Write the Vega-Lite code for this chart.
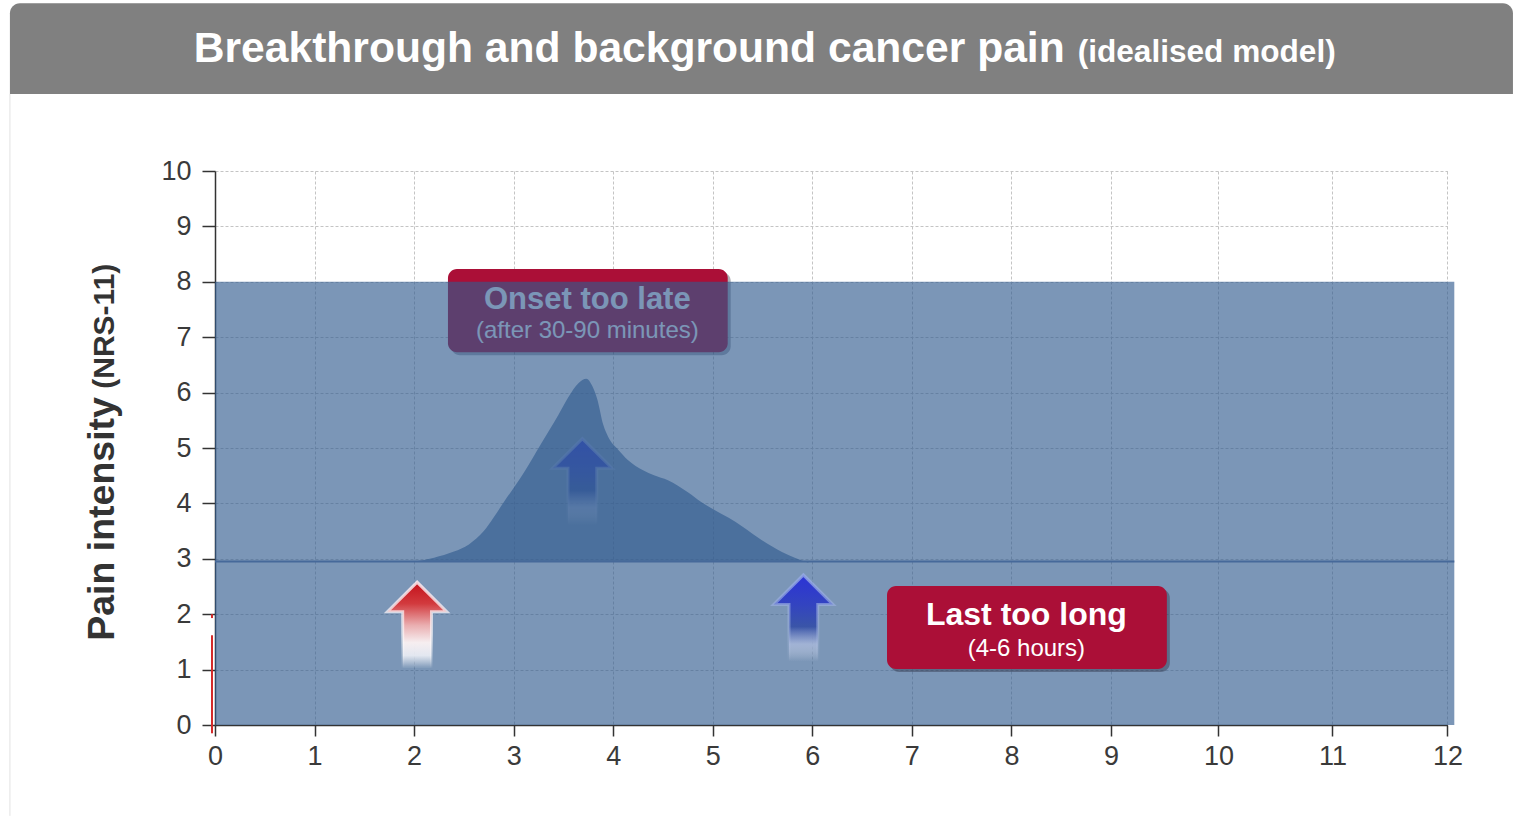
{
  "$schema": "https://vega.github.io/schema/vega-lite/v6.json",
  "width": 1232,
  "height": 554,
  "padding": {"left": 9, "top": 3, "right": 0, "bottom": 0},
  "background": "#ffffff",
  "config": {
    "view": {"stroke": null},
    "font": "Liberation Sans",
    "axis": {
      "domainColor": "#333333", "domainWidth": 1.5,
      "tickColor": "#333333", "tickWidth": 1.5,
      "labelColor": "#3a3a3a", "labelFontSize": 27, "labelFont": "Liberation Sans",
      "grid": true, "gridColor": "#c4c4c4", "gridDash": [3, 2], "gridWidth": 1,
      "labelFlush": false, "labelOverlap": false
    }
  },
  "datasets": {
    "header": [{"x": -2.06, "x2": 12.57, "y": 11.39, "y2": 13.03}],
    "panelEdge": [{"x": -2.06, "y": -1.64, "y2": 11.39}],
    "titleMain": [{"label": "Breakthrough and background cancer pain", "x": 8.535, "y": 11.966}],
    "titleSub": [{"label": "(idealised model)", "x": 8.665, "y": 11.966}],
    "yTitleMain": [{"label": "Pain intensity", "x": -1.017, "y": 5.92}],
    "yTitleSub": [{"label": "(NRS-11)", "x": -1.017, "y": 6.07}],
    "painRange": [{"start": 0, "end": 12.06, "low": 0, "high": 8}],
    "backgroundPain": [{"start": 0, "end": 12.06, "level": 2.95}],
    "episode": [
      {"time": 2.0, "pain": 2.95, "background": 2.95},
      {"time": 2.2, "pain": 3.02, "background": 2.95},
      {"time": 2.4, "pain": 3.13, "background": 2.95},
      {"time": 2.55, "pain": 3.26, "background": 2.95},
      {"time": 2.7, "pain": 3.5, "background": 2.95},
      {"time": 2.8, "pain": 3.75, "background": 2.95},
      {"time": 2.9, "pain": 4.02, "background": 2.95},
      {"time": 3.1, "pain": 4.55, "background": 2.95},
      {"time": 3.28, "pain": 5.09, "background": 2.95},
      {"time": 3.45, "pain": 5.6, "background": 2.95},
      {"time": 3.55, "pain": 5.92, "background": 2.95},
      {"time": 3.65, "pain": 6.17, "background": 2.95},
      {"time": 3.73, "pain": 6.25, "background": 2.95},
      {"time": 3.79, "pain": 6.12, "background": 2.95},
      {"time": 3.84, "pain": 5.88, "background": 2.95},
      {"time": 3.9, "pain": 5.42, "background": 2.95},
      {"time": 3.95, "pain": 5.2, "background": 2.95},
      {"time": 4.05, "pain": 4.97, "background": 2.95},
      {"time": 4.15, "pain": 4.78, "background": 2.95},
      {"time": 4.3, "pain": 4.6, "background": 2.95},
      {"time": 4.41, "pain": 4.51, "background": 2.95},
      {"time": 4.55, "pain": 4.42, "background": 2.95},
      {"time": 4.65, "pain": 4.32, "background": 2.95},
      {"time": 4.75, "pain": 4.2, "background": 2.95},
      {"time": 4.88, "pain": 4.03, "background": 2.95},
      {"time": 5.0, "pain": 3.9, "background": 2.95},
      {"time": 5.16, "pain": 3.74, "background": 2.95},
      {"time": 5.3, "pain": 3.58, "background": 2.95},
      {"time": 5.49, "pain": 3.34, "background": 2.95},
      {"time": 5.7, "pain": 3.12, "background": 2.95},
      {"time": 5.96, "pain": 2.93, "background": 2.95}
    ],
    "boxes": [
      {"box": "onset", "x": 2.34, "x2": 5.15, "y": 6.73, "y2": 8.23},
      {"box": "last", "x": 6.75, "x2": 9.52, "y": 1.01, "y2": 2.51}
    ],
    "boxText": [
      {"box": "onset", "kind": "head", "label": "Onset too late", "x": 3.74, "y": 7.51},
      {"box": "onset", "kind": "sub", "label": "(after 30-90 minutes)", "x": 3.74, "y": 6.99},
      {"box": "last", "kind": "head", "label": "Last too long", "x": 8.15, "y": 1.81},
      {"box": "last", "kind": "sub", "label": "(4-6 hours)", "x": 8.15, "y": 1.25}
    ],
    "arrows": [
      {"id": "red", "x": 2.03, "y": 1.80},
      {"id": "mid", "x": 3.69, "y": 4.39},
      {"id": "right", "x": 5.91, "y": 1.93}
    ],
    "redMarks": [
      {"x": -0.03, "y": -0.15, "y2": 1.62},
      {"x": -0.03, "y": 1.93, "y2": 2.0}
    ]
  },
  "layer": [
    {
      "data": {"name": "boxes"},
      "transform": [{"filter": "datum.box === 'onset'"}],
      "mark": {"type": "rect", "cornerRadius": 9, "color": "#1e1e2e", "opacity": 0.35, "xOffset": 3, "x2Offset": 3, "yOffset": 3, "y2Offset": 3},
      "encoding": {
        "x": {"field": "x", "type": "quantitative", "scale": {"domain": [0, 9, 10, 11, 12], "range": [0, 896, 1003.4, 1117.4, 1232.4]}, "axis": {"values": [0,1,2,3,4,5,6,7,8,9,10,11,12], "format": "d", "tickSize": 11, "labelPadding": 7, "title": null}},
        "x2": {"field": "x2"},
        "y": {"field": "y", "type": "quantitative", "scale": {"domain": [0, 10]}, "axis": {"values": [0,1,2,3,4,5,6,7,8,9,10], "format": "d", "tickSize": 13, "labelPadding": 11, "title": null}},
        "y2": {"field": "y2"}
      }
    },
    {
      "data": {"name": "boxes"},
      "transform": [{"filter": "datum.box === 'onset'"}],
      "mark": {"type": "rect", "cornerRadius": 9, "color": "#ab0f37"},
      "encoding": {
        "x": {"field": "x", "type": "quantitative", "scale": {"domain": [0, 9, 10, 11, 12], "range": [0, 896, 1003.4, 1117.4, 1232.4]}},
        "x2": {"field": "x2"},
        "y": {"field": "y", "type": "quantitative", "scale": {"domain": [0, 10]}},
        "y2": {"field": "y2"}
      }
    },
    {
      "data": {"name": "boxText"},
      "transform": [{"filter": "datum.box === 'onset' && datum.kind === 'head'"}],
      "mark": {"type": "text", "font": "Liberation Sans", "fontWeight": "bold", "fontSize": 31, "color": "#ffffff", "align": "center", "baseline": "alphabetic"},
      "encoding": {
        "x": {"field": "x", "type": "quantitative", "scale": {"domain": [0, 9, 10, 11, 12], "range": [0, 896, 1003.4, 1117.4, 1232.4]}},
        "y": {"field": "y", "type": "quantitative", "scale": {"domain": [0, 10]}},
        "text": {"field": "label"}
      }
    },
    {
      "data": {"name": "boxText"},
      "transform": [{"filter": "datum.box === 'onset' && datum.kind === 'sub'"}],
      "mark": {"type": "text", "font": "Liberation Sans", "fontSize": 24, "color": "#ffffff", "align": "center", "baseline": "alphabetic"},
      "encoding": {
        "x": {"field": "x", "type": "quantitative", "scale": {"domain": [0, 9, 10, 11, 12], "range": [0, 896, 1003.4, 1117.4, 1232.4]}},
        "y": {"field": "y", "type": "quantitative", "scale": {"domain": [0, 10]}},
        "text": {"field": "label"}
      }
    },
    {
      "data": {"name": "episode"},
      "mark": {"type": "area", "interpolate": "monotone", "color": "#315b8f", "opacity": 0.64},
      "encoding": {
        "x": {"field": "time", "type": "quantitative", "scale": {"domain": [0, 9, 10, 11, 12], "range": [0, 896, 1003.4, 1117.4, 1232.4]}},
        "y": {"field": "pain", "type": "quantitative", "scale": {"domain": [0, 10]}},
        "y2": {"field": "background"}
      }
    },
    {
      "data": {"name": "arrows"},
      "transform": [{"filter": "datum.id === 'mid'"}],
      "mark": {
        "type": "point", "filled": true, "opacity": 0.85, "size": 8100,
        "shape": "M0,-0.96L0.66,-0.3L0.32,-0.3L0.32,0.96L-0.32,0.96L-0.32,-0.3L-0.66,-0.3Z",
        "fill": {"gradient": "linear", "x1": 0, "y1": 0, "x2": 0, "y2": 1, "stops": [
          {"offset": 0, "color": "#2b33d6"}, {"offset": 0.35, "color": "#3344c0"}, {"offset": 0.6, "color": "#3a55a8"},
          {"offset": 0.8, "color": "rgba(170,185,220,0.8)"}, {"offset": 1, "color": "rgba(220,225,240,0)"}]},
        "stroke": {"gradient": "linear", "x1": 0, "y1": 0, "x2": 0, "y2": 1, "stops": [
          {"offset": 0, "color": "rgba(150,170,230,0.8)"}, {"offset": 0.6, "color": "rgba(160,180,225,0.5)"}, {"offset": 1, "color": "rgba(200,210,235,0)"}]},
        "strokeWidth": 3
      },
      "encoding": {
        "x": {"field": "x", "type": "quantitative", "scale": {"domain": [0, 9, 10, 11, 12], "range": [0, 896, 1003.4, 1117.4, 1232.4]}},
        "y": {"field": "y", "type": "quantitative", "scale": {"domain": [0, 10]}}
      }
    },
    {
      "data": {"name": "painRange"},
      "mark": {"type": "rect", "color": "#315b8f", "opacity": 0.64},
      "encoding": {
        "x": {"field": "start", "type": "quantitative", "scale": {"domain": [0, 9, 10, 11, 12], "range": [0, 896, 1003.4, 1117.4, 1232.4]}},
        "x2": {"field": "end"},
        "y": {"field": "low", "type": "quantitative", "scale": {"domain": [0, 10]}},
        "y2": {"field": "high"}
      }
    },
    {
      "data": {"name": "backgroundPain"},
      "mark": {"type": "rule", "color": "#46699a", "strokeWidth": 2},
      "encoding": {
        "x": {"field": "start", "type": "quantitative", "scale": {"domain": [0, 9, 10, 11, 12], "range": [0, 896, 1003.4, 1117.4, 1232.4]}},
        "x2": {"field": "end"},
        "y": {"field": "level", "type": "quantitative", "scale": {"domain": [0, 10]}}
      }
    },
    {
      "data": {"name": "redMarks"},
      "mark": {"type": "rule", "color": "#d42a2a", "strokeWidth": 2},
      "encoding": {
        "x": {"field": "x", "type": "quantitative", "scale": {"domain": [0, 9, 10, 11, 12], "range": [0, 896, 1003.4, 1117.4, 1232.4]}},
        "y": {"field": "y", "type": "quantitative", "scale": {"domain": [0, 10]}},
        "y2": {"field": "y2"}
      }
    },
    {
      "data": {"name": "arrows"},
      "transform": [{"filter": "datum.id === 'red'"}],
      "mark": {
        "type": "point", "filled": true, "opacity": 1, "size": 8100,
        "shape": "M0,-0.96L0.66,-0.3L0.32,-0.3L0.32,0.96L-0.32,0.96L-0.32,-0.3L-0.66,-0.3Z",
        "fill": {"gradient": "linear", "x1": 0, "y1": 0, "x2": 0, "y2": 1, "stops": [
          {"offset": 0, "color": "#c4101a"}, {"offset": 0.25, "color": "#d23a3e"}, {"offset": 0.5, "color": "#eaaeb0"},
          {"offset": 0.7, "color": "#f6eef0"}, {"offset": 0.85, "color": "rgba(245,245,250,0.85)"}, {"offset": 1, "color": "rgba(255,255,255,0)"}]},
        "stroke": {"gradient": "linear", "x1": 0, "y1": 0, "x2": 0, "y2": 1, "stops": [
          {"offset": 0, "color": "rgba(255,235,240,0.85)"}, {"offset": 0.6, "color": "rgba(255,255,255,0.6)"}, {"offset": 1, "color": "rgba(255,255,255,0)"}]},
        "strokeWidth": 3
      },
      "encoding": {
        "x": {"field": "x", "type": "quantitative", "scale": {"domain": [0, 9, 10, 11, 12], "range": [0, 896, 1003.4, 1117.4, 1232.4]}},
        "y": {"field": "y", "type": "quantitative", "scale": {"domain": [0, 10]}}
      }
    },
    {
      "data": {"name": "arrows"},
      "transform": [{"filter": "datum.id === 'right'"}],
      "mark": {
        "type": "point", "filled": true, "opacity": 1, "size": 8100,
        "shape": "M0,-0.96L0.66,-0.3L0.32,-0.3L0.32,0.96L-0.32,0.96L-0.32,-0.3L-0.66,-0.3Z",
        "fill": {"gradient": "linear", "x1": 0, "y1": 0, "x2": 0, "y2": 1, "stops": [
          {"offset": 0, "color": "#2b33d6"}, {"offset": 0.35, "color": "#3344c0"}, {"offset": 0.6, "color": "#3a55a8"},
          {"offset": 0.8, "color": "rgba(170,185,220,0.8)"}, {"offset": 1, "color": "rgba(220,225,240,0)"}]},
        "stroke": {"gradient": "linear", "x1": 0, "y1": 0, "x2": 0, "y2": 1, "stops": [
          {"offset": 0, "color": "rgba(150,170,230,0.8)"}, {"offset": 0.6, "color": "rgba(160,180,225,0.5)"}, {"offset": 1, "color": "rgba(200,210,235,0)"}]},
        "strokeWidth": 3
      },
      "encoding": {
        "x": {"field": "x", "type": "quantitative", "scale": {"domain": [0, 9, 10, 11, 12], "range": [0, 896, 1003.4, 1117.4, 1232.4]}},
        "y": {"field": "y", "type": "quantitative", "scale": {"domain": [0, 10]}}
      }
    },
    {
      "data": {"name": "boxes"},
      "transform": [{"filter": "datum.box === 'last'"}],
      "mark": {"type": "rect", "cornerRadius": 9, "color": "#1e1e2e", "opacity": 0.35, "xOffset": 3, "x2Offset": 3, "yOffset": 3, "y2Offset": 3},
      "encoding": {
        "x": {"field": "x", "type": "quantitative", "scale": {"domain": [0, 9, 10, 11, 12], "range": [0, 896, 1003.4, 1117.4, 1232.4]}},
        "x2": {"field": "x2"},
        "y": {"field": "y", "type": "quantitative", "scale": {"domain": [0, 10]}},
        "y2": {"field": "y2"}
      }
    },
    {
      "data": {"name": "boxes"},
      "transform": [{"filter": "datum.box === 'last'"}],
      "mark": {"type": "rect", "cornerRadius": 9, "color": "#ab0f37"},
      "encoding": {
        "x": {"field": "x", "type": "quantitative", "scale": {"domain": [0, 9, 10, 11, 12], "range": [0, 896, 1003.4, 1117.4, 1232.4]}},
        "x2": {"field": "x2"},
        "y": {"field": "y", "type": "quantitative", "scale": {"domain": [0, 10]}},
        "y2": {"field": "y2"}
      }
    },
    {
      "data": {"name": "boxText"},
      "transform": [{"filter": "datum.box === 'last' && datum.kind === 'head'"}],
      "mark": {"type": "text", "font": "Liberation Sans", "fontWeight": "bold", "fontSize": 32, "color": "#ffffff", "align": "center", "baseline": "alphabetic"},
      "encoding": {
        "x": {"field": "x", "type": "quantitative", "scale": {"domain": [0, 9, 10, 11, 12], "range": [0, 896, 1003.4, 1117.4, 1232.4]}},
        "y": {"field": "y", "type": "quantitative", "scale": {"domain": [0, 10]}},
        "text": {"field": "label"}
      }
    },
    {
      "data": {"name": "boxText"},
      "transform": [{"filter": "datum.box === 'last' && datum.kind === 'sub'"}],
      "mark": {"type": "text", "font": "Liberation Sans", "fontSize": 24, "color": "#ffffff", "align": "center", "baseline": "alphabetic"},
      "encoding": {
        "x": {"field": "x", "type": "quantitative", "scale": {"domain": [0, 9, 10, 11, 12], "range": [0, 896, 1003.4, 1117.4, 1232.4]}},
        "y": {"field": "y", "type": "quantitative", "scale": {"domain": [0, 10]}},
        "text": {"field": "label"}
      }
    },
    {
      "data": {"name": "header"},
      "mark": {"type": "rect", "color": "#808080", "cornerRadiusTopLeft": 10, "cornerRadiusTopRight": 10},
      "encoding": {
        "x": {"field": "x", "type": "quantitative", "scale": {"domain": [0, 9, 10, 11, 12], "range": [0, 896, 1003.4, 1117.4, 1232.4]}},
        "x2": {"field": "x2"},
        "y": {"field": "y", "type": "quantitative", "scale": {"domain": [0, 10]}},
        "y2": {"field": "y2"}
      }
    },
    {
      "data": {"name": "panelEdge"},
      "mark": {"type": "rule", "color": "#e2e2e2", "strokeWidth": 1},
      "encoding": {
        "x": {"field": "x", "type": "quantitative", "scale": {"domain": [0, 9, 10, 11, 12], "range": [0, 896, 1003.4, 1117.4, 1232.4]}},
        "y": {"field": "y", "type": "quantitative", "scale": {"domain": [0, 10]}},
        "y2": {"field": "y2"}
      }
    },
    {
      "data": {"name": "titleMain"},
      "mark": {"type": "text", "font": "Liberation Sans", "fontWeight": "bold", "fontSize": 42.6, "color": "#ffffff", "align": "right", "baseline": "alphabetic"},
      "encoding": {
        "x": {"field": "x", "type": "quantitative", "scale": {"domain": [0, 9, 10, 11, 12], "range": [0, 896, 1003.4, 1117.4, 1232.4]}},
        "y": {"field": "y", "type": "quantitative", "scale": {"domain": [0, 10]}},
        "text": {"field": "label"}
      }
    },
    {
      "data": {"name": "titleSub"},
      "mark": {"type": "text", "font": "Liberation Sans", "fontWeight": "bold", "fontSize": 31.6, "color": "#ffffff", "align": "left", "baseline": "alphabetic"},
      "encoding": {
        "x": {"field": "x", "type": "quantitative", "scale": {"domain": [0, 9, 10, 11, 12], "range": [0, 896, 1003.4, 1117.4, 1232.4]}},
        "y": {"field": "y", "type": "quantitative", "scale": {"domain": [0, 10]}},
        "text": {"field": "label"}
      }
    },
    {
      "data": {"name": "yTitleMain"},
      "mark": {"type": "text", "font": "Liberation Sans", "fontWeight": "bold", "fontSize": 37.5, "color": "#333333", "align": "right", "baseline": "alphabetic", "angle": 270},
      "encoding": {
        "x": {"field": "x", "type": "quantitative", "scale": {"domain": [0, 9, 10, 11, 12], "range": [0, 896, 1003.4, 1117.4, 1232.4]}},
        "y": {"field": "y", "type": "quantitative", "scale": {"domain": [0, 10]}},
        "text": {"field": "label"}
      }
    },
    {
      "data": {"name": "yTitleSub"},
      "mark": {"type": "text", "font": "Liberation Sans", "fontWeight": "bold", "fontSize": 30, "color": "#333333", "align": "left", "baseline": "alphabetic", "angle": 270},
      "encoding": {
        "x": {"field": "x", "type": "quantitative", "scale": {"domain": [0, 9, 10, 11, 12], "range": [0, 896, 1003.4, 1117.4, 1232.4]}},
        "y": {"field": "y", "type": "quantitative", "scale": {"domain": [0, 10]}},
        "text": {"field": "label"}
      }
    }
  ]
}
